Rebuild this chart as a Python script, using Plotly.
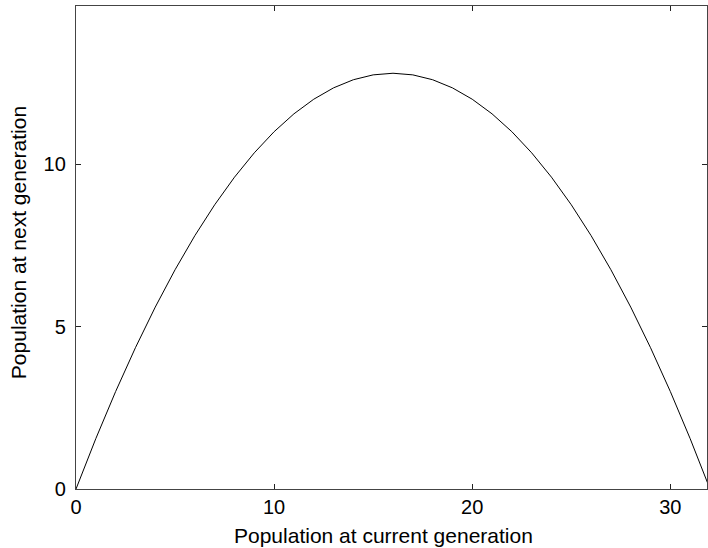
import plotly.graph_objects as go

# Population at current generation (x) and next generation (y)
pop_current = list(range(0, 33))
pop_next = [0.0, 1.55, 3.0, 4.35, 5.6, 6.75, 7.8, 8.75, 9.6, 10.35, 11.0,
            11.55, 12.0, 12.35, 12.6, 12.75, 12.8, 12.75, 12.6, 12.35, 12.0,
            11.55, 11.0, 10.35, 9.6, 8.75, 7.8, 6.75, 5.6, 4.35, 3.0, 1.55, 0.0]

x_ticks = [0, 10, 20, 30]
y_ticks = [0, 5, 10]
x_title = "Population at current generation"
y_title = "Population at next generation"

FONT = "Liberation Sans, Arial, Helvetica, sans-serif"

fig = go.Figure()
fig.add_trace(go.Scatter(x=pop_current, y=pop_next, mode="lines",
                         line=dict(color="black", width=1), showlegend=False))

axis_common = dict(showgrid=False, zeroline=False, showline=True, linecolor="#444",
                   linewidth=1.3, mirror="ticks", ticks="inside", ticklen=5,
                   tickcolor="#222", tickwidth=1, automargin=False,
                   tickfont=dict(family=FONT, size=20, color="black"))

fig.update_xaxes(range=[0, 31.85], tickvals=x_ticks, ticktext=[str(v) for v in x_ticks],
                 **axis_common)
fig.update_yaxes(range=[0, 14.87], tickvals=y_ticks, ticktext=[str(v) for v in y_ticks],
                 ticklabelstandoff=5, **axis_common)

fig.add_annotation(text=x_title, xref="paper", yref="paper", x=0.488, y=-0.096,
                   xanchor="center", yanchor="middle", showarrow=False,
                   font=dict(family=FONT, size=21, color="black"))
fig.add_annotation(text=y_title, xref="paper", yref="paper", x=-0.092, y=0.511,
                   xanchor="center", yanchor="middle", showarrow=False, textangle=-90,
                   font=dict(family=FONT, size=21, color="black"))

fig.update_layout(width=708, height=548, plot_bgcolor="white", paper_bgcolor="white",
                  margin=dict(l=76, r=0.5, t=6, b=59))

fig.write_html("out.html", config={"displayModeBar": False},
               post_script="document.body.style.margin='0';")
